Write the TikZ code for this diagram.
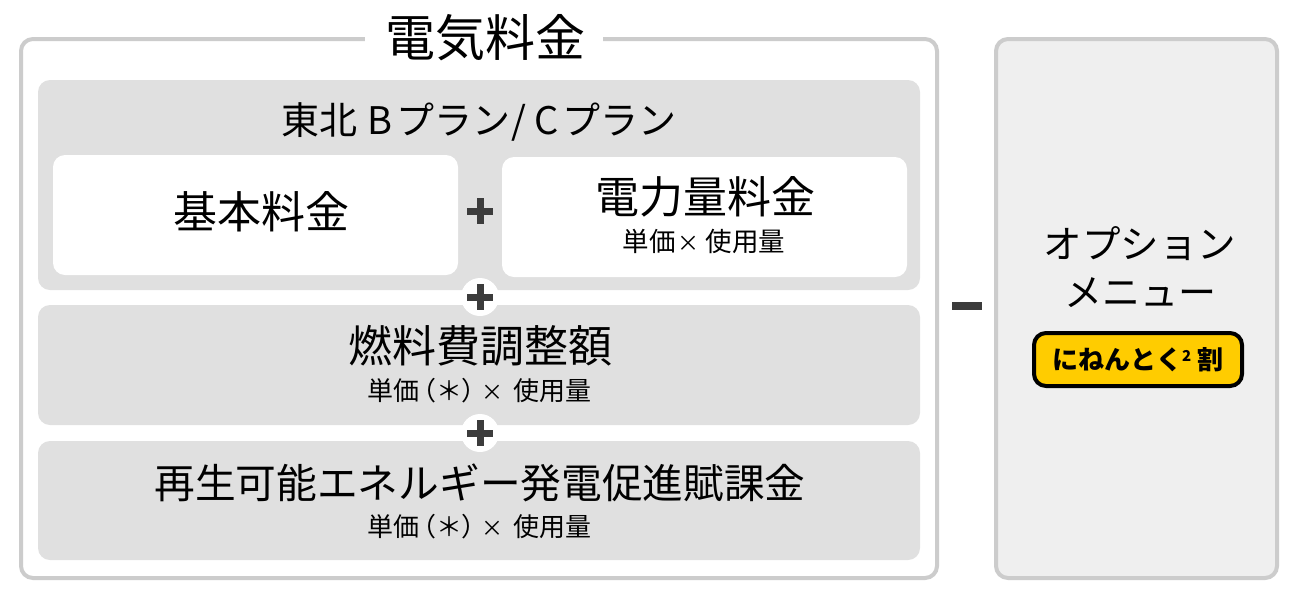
\documentclass[tikz,border=0pt]{standalone}
\usepackage{fontspec}
\setmainfont{Noto Sans CJK JP}
\newfontfamily\blackjp[UprightFont=* Black]{Noto Sans CJK JP}
\newfontfamily\paltjp[RawFeature=+palt]{Noto Sans CJK JP}
\usetikzlibrary{calc}
\definecolor{frameg}{HTML}{CCCCCC}
\definecolor{panelg}{HTML}{E0E0E0}
\definecolor{optg}{HTML}{EFEFEF}
\definecolor{signg}{HTML}{3C3C3C}
\definecolor{badgey}{HTML}{FFCC00}
\newcommand{\fs}[1]{\fontsize{#1pt}{#1pt}\selectfont}
\newcommand{\kk}[1]{\hspace*{#1pt}}
\newcommand{\unitA}{単価\kk{2}{\fs{22}×}\kk{6}使用量}
\newcommand{\unitB}{単価\kk{4}{\paltjp（}＊{\paltjp ）}\kk{6}{\fs{22}×}\kk{10}使用量}
\tikzset{
  box/.style={rectangle,rounded corners=12pt,minimum width=#1,inner sep=0pt,outer sep=0pt,anchor=north west},
  txt/.style={inner sep=0pt,text=black,align=center},
  disc/.style={circle,fill=white,minimum size=38pt,inner sep=0pt}
}
\newcommand{\plus}[1]{\fill[signg] ($(#1)+(-13,-3.5)$) rectangle ($(#1)+(13,3.5)$);\fill[signg] ($(#1)+(-3.5,-13)$) rectangle ($(#1)+(3.5,13)$);}
\begin{document}
\begin{tikzpicture}[x=1pt,y=-1pt]
\useasboundingbox (0,0) rectangle (1300,603);
\fill[white] (0,0) rectangle (1300,603);
% outer frames
\node[box=916pt,minimum height=539pt,draw=frameg,line width=4pt,fill=white] (outer) at (21,39) {};
\node[box=281pt,minimum height=539pt,draw=frameg,line width=4pt,fill=optg] (option) at (996,39) {};
\node[fill=white,minimum width=238pt,minimum height=12pt,inner sep=0pt] (titlegap) at (484,39) {};
\node[txt,font=\fs{50}] (title) at (485,38) {電気料金};
% panels
\node[box=882pt,minimum height=210pt,fill=panelg] (plan) at (38,80) {};
\node[box=882pt,minimum height=120pt,fill=panelg] (fuel) at (38,305) {};
\node[box=882pt,minimum height=119pt,fill=panelg] (renew) at (38,441) {};
\node[box=405pt,minimum height=120pt,fill=white] (base) at (53,155) {};
\node[box=405pt,minimum height=120pt,fill=white] (usage) at (502,157) {};
% text
\node[txt,font=\fs{38}] (plantitle) at (479,122) {東北\kk{10}B\kk{4}プラン\kk{1}/\kk{8}C\kk{3}プラン};
\node[txt,font=\fs{44}] (basetxt) at (261,212) {基本料金};
\node[txt,font=\fs{44}] (usagetxt) at (705,197) {電力量料金};
\node[txt,font=\fs{26.5}] (usagesub) at (704,241) {\unitA};
\node[txt,font=\fs{44}] (fueltxt) at (480,346) {燃料費調整額};
\node[txt,font=\fs{26}] (fuelsub) at (479,391) {\unitB};
\node[txt,font=\fs{40.7}] (renewtxt) at (480,483) {再生可能エネルギー発電促進賦課金};
\node[txt,font=\fs{26}] (renewsub) at (479,527) {\unitB};
\node[txt,font=\fs{38.5}] (opt1) at (1140,244) {オプション};
\node[txt,font=\fs{38}] (opt2) at (1140,293) {メニュー};
% badge
\node[box=208pt,minimum height=53pt,fill=badgey,draw=black,line width=4pt] (badge) at (1034,333) {};
\node[txt,font=\fs{26}\blackjp] (badgetxt) at (1138,360) {にねんとく\raisebox{8pt}{\fs{15}2}\kk{6}割};
% signs
\node[disc] (c1) at (480,297) {};
\node[disc] (c2) at (480,433) {};
\plus{480,211}
\plus{c1}
\plus{c2}
\fill[signg] (952,302) rectangle (982,310);
\end{tikzpicture}
\end{document}
